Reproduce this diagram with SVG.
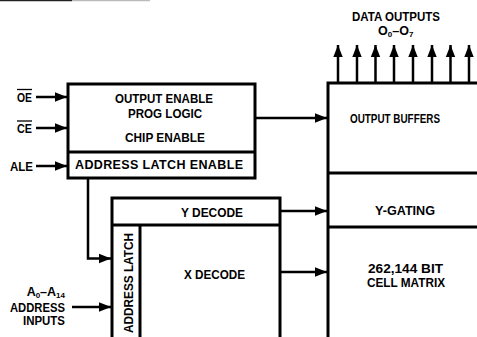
<svg xmlns="http://www.w3.org/2000/svg" width="477" height="337" viewBox="0 0 477 337">
<defs>
<style>
.t{font-family:"Liberation Sans",Arial,sans-serif;font-weight:bold;font-size:12.5px;fill:#000}
.c{text-anchor:middle}
.e{text-anchor:end}
.box{fill:none;stroke:#000;stroke-width:3;stroke-linejoin:miter}
.ln{fill:none;stroke:#000;stroke-width:3}
.con{fill:none;stroke:#000;stroke-width:2.5}
</style>
<marker id="ah" markerUnits="userSpaceOnUse" markerWidth="13" markerHeight="11" refX="12" refY="5.5" orient="auto">
<path d="M0,0.8 L12,5.5 L0,10.2 Z" fill="#000"/>
</marker>
</defs>
<rect width="477" height="337" fill="#fff"/>
<line x1="0" y1="0.6" x2="72" y2="0.6" stroke="#222" stroke-width="1.3"/>
<line x1="72" y1="0.6" x2="150" y2="0.6" stroke="#bbb" stroke-width="1.3"/>

<g id="inputs">
<text class="t c" x="24.5" y="101.5" textLength="15" lengthAdjust="spacingAndGlyphs">OE</text>
<line x1="17" y1="89.5" x2="32" y2="89.5" stroke="#000" stroke-width="1.3"/>
<text class="t c" x="24.5" y="132.5" textLength="15" lengthAdjust="spacingAndGlyphs">CE</text>
<line x1="17" y1="121" x2="32" y2="121" stroke="#000" stroke-width="1.3"/>
<text class="t" x="10" y="170.5" textLength="23" lengthAdjust="spacingAndGlyphs">ALE</text>
<text class="t e" x="65" y="296">A<tspan font-size="8" dy="2">0</tspan><tspan dy="-2">–A</tspan><tspan font-size="8" dy="2">14</tspan></text>
<text class="t" x="10" y="311.5" textLength="55" lengthAdjust="spacingAndGlyphs">ADDRESS</text>
<text class="t" x="23" y="325" textLength="42" lengthAdjust="spacingAndGlyphs">INPUTS</text>
</g>

<g id="oe-logic">
<rect class="box" x="68" y="84" width="187" height="94"/>
<line class="ln" x1="68" y1="152" x2="255" y2="152"/>
<text class="t" x="115" y="102.5" textLength="98" lengthAdjust="spacingAndGlyphs">OUTPUT ENABLE</text>
<text class="t" x="128" y="117.5" textLength="74" lengthAdjust="spacingAndGlyphs">PROG LOGIC</text>
<text class="t" x="125" y="141.5" textLength="80" lengthAdjust="spacingAndGlyphs">CHIP ENABLE</text>
<text class="t" x="75" y="168.5" textLength="168" lengthAdjust="spacing">ADDRESS LATCH ENABLE</text>
</g>

<g id="decode">
<path class="box" d="M112,340 V198 H280 V340"/>
<line class="ln" x1="112" y1="225" x2="280" y2="225"/>
<line class="ln" x1="140" y1="225" x2="140" y2="340"/>
<text class="t" x="181" y="216.5" textLength="62" lengthAdjust="spacingAndGlyphs">Y DECODE</text>
<text class="t" x="184" y="278.5" textLength="61" lengthAdjust="spacingAndGlyphs">X DECODE</text>
<text class="t" transform="translate(132.5,333) rotate(-90)" x="0" y="0" textLength="100" lengthAdjust="spacingAndGlyphs">ADDRESS LATCH</text>
</g>

<g id="output">
<path class="box" d="M480,83 H328 V340"/>
<line class="ln" x1="328" y1="173" x2="480" y2="173"/>
<line class="ln" x1="328" y1="227" x2="480" y2="227"/>
<text class="t" x="350" y="122.5" textLength="90" lengthAdjust="spacingAndGlyphs">OUTPUT BUFFERS</text>
<text class="t" x="375" y="214.5" textLength="60" lengthAdjust="spacingAndGlyphs">Y-GATING</text>
<text class="t" x="368" y="272.5" textLength="75" lengthAdjust="spacingAndGlyphs">262,144 BIT</text>
<text class="t" x="367" y="286.5" textLength="78" lengthAdjust="spacingAndGlyphs">CELL MATRIX</text>
<text class="t" x="352" y="20.5" textLength="88" lengthAdjust="spacingAndGlyphs">DATA OUTPUTS</text>
<text class="t" x="378" y="35">O<tspan font-size="8" dy="2">0</tspan><tspan dy="-2">–O</tspan><tspan font-size="8" dy="2">7</tspan></text>
</g>

<g id="connectors">
<line class="con" x1="36" y1="97" x2="67" y2="97" marker-end="url(#ah)"/>
<line class="con" x1="36" y1="128" x2="67" y2="128" marker-end="url(#ah)"/>
<line class="con" x1="36" y1="166" x2="67" y2="166" marker-end="url(#ah)"/>
<path class="con" d="M88,178 V258.5 H111" marker-end="url(#ah)"/>
<line class="con" x1="72" y1="307" x2="111" y2="307" marker-end="url(#ah)"/>
<line class="con" x1="256" y1="118" x2="327" y2="118" marker-end="url(#ah)"/>
<line class="con" x1="281" y1="211" x2="327" y2="211" marker-end="url(#ah)"/>
<line class="con" x1="281" y1="272" x2="327" y2="272" marker-end="url(#ah)"/>
<line class="con" x1="338" y1="83" x2="338" y2="45" marker-end="url(#ah)"/>
<line class="con" x1="357" y1="83" x2="357" y2="45" marker-end="url(#ah)"/>
<line class="con" x1="375.5" y1="83" x2="375.5" y2="45" marker-end="url(#ah)"/>
<line class="con" x1="394" y1="83" x2="394" y2="45" marker-end="url(#ah)"/>
<line class="con" x1="413" y1="83" x2="413" y2="45" marker-end="url(#ah)"/>
<line class="con" x1="432" y1="83" x2="432" y2="45" marker-end="url(#ah)"/>
<line class="con" x1="450.5" y1="83" x2="450.5" y2="45" marker-end="url(#ah)"/>
<line class="con" x1="469" y1="83" x2="469" y2="45" marker-end="url(#ah)"/>
</g>
</svg>
